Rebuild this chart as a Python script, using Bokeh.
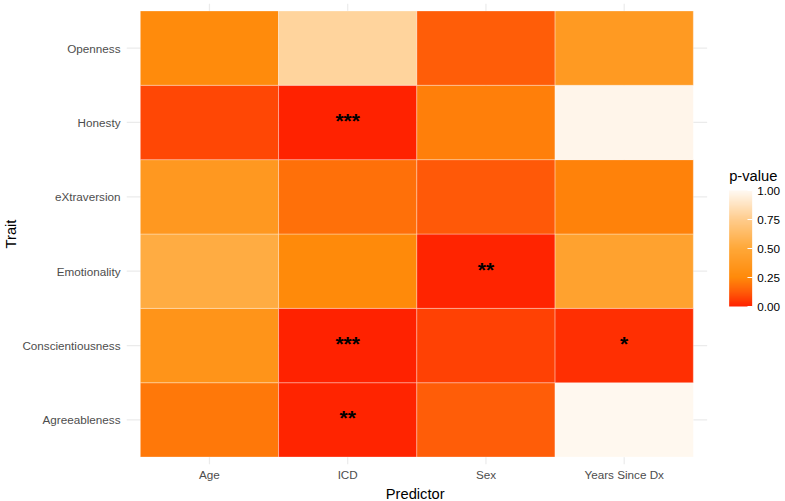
import numpy as np
from bokeh.plotting import figure
from bokeh.models import (ColumnDataSource, LinearColorMapper, ColorBar, FixedTicker,
                          PrintfTickFormatter, Range1d, Label, Title)
from bokeh.core.properties import value
from bokeh.embed import file_html
from bokeh.resources import INLINE

# Predictors (x) and personality traits (y, bottom to top)
predictors = ["Age", "ICD", "Sex", "Years Since Dx"]
traits = ["Agreeableness", "Conscientiousness", "Emotionality",
          "eXtraversion", "Honesty", "Openness"]

# p-values per predictor, ordered like `traits`
p_age = [0.20, 0.33, 0.53, 0.37, 0.08, 0.26]
p_icd = [0.006, 0.0006, 0.25, 0.18, 0.0008, 0.79]
p_sex = [0.13, 0.07, 0.004, 0.12, 0.22, 0.13]
p_ysd = [0.99, 0.03, 0.45, 0.23, 0.98, 0.38]

# colour scale: red (p = 0) through orange to off-white (p = 1)
scale_stops = [0.0, 0.12, 0.25, 0.5, 0.75, 1.0]
scale_colors = ["#FF2200", "#FF5A08", "#FF8A0A", "#FFA838", "#FFCC8C", "#FFF9F2"]
legend_ticks = [0, 0.25, 0.5, 0.75, 1.0]

FONT = "Liberation Sans"

# layout (pixels)
W, H = 785, 501
LEFT, TOP, BOTTOM = 126, 3, 37
COL_PX = 138.25            # width of one predictor column
PANEL_PX = COL_PX * (len(predictors) + 0.2)
LEGEND_PX = W - LEFT - PANEL_PX   # room right of the panel
XTITLE_PX = 62                    # approx. width of the x-axis title text


def build_palette(stops, colors, n=256):
    rgb = np.array([[int(c[i:i + 2], 16) for i in (1, 3, 5)] for c in colors], float)
    t = np.linspace(0, 1, n)
    chans = [np.interp(t, stops, rgb[:, k]) for k in range(3)]
    return ["#%02X%02X%02X" % (int(round(r)), int(round(g)), int(round(b)))
            for r, g, b in zip(*chans)]


def stars(p):
    if p < 0.001:
        return "***"
    if p < 0.01:
        return "**"
    if p < 0.05:
        return "*"
    return ""


columns = [p_age, p_icd, p_sex, p_ysd]
xs, ys, pv, lab = [], [], [], []
for i, col in enumerate(columns):
    for j, p in enumerate(col):
        xs.append(i + 1)
        ys.append(j + 1)
        pv.append(p)
        lab.append(stars(p))
src = ColumnDataSource(dict(x=xs, y=ys, p=pv, lab=lab))

mapper = LinearColorMapper(palette=build_palette(scale_stops, scale_colors), low=0, high=1)

x_lo, x_hi = 0.4, len(predictors) + 0.6
y_lo, y_hi = 0.4, len(traits) + 0.6

# the frame also spans the legend area on the right, so the x range runs past the panel
p = figure(width=W, height=H,
           x_range=Range1d(x_lo, x_hi + LEGEND_PX / COL_PX),
           y_range=Range1d(y_lo, y_hi),
           output_backend="svg", toolbar_location=None,
           min_border_left=LEFT, min_border_right=0, min_border_top=TOP,
           min_border_bottom=BOTTOM)
p.outline_line_color = None
p.background_fill_color = "white"
p.border_fill_color = "white"
p.xgrid.visible = False
p.ygrid.visible = False

# panel grid lines, limited to the panel
grid_x = list(range(1, len(predictors) + 1))
grid_y = list(range(1, len(traits) + 1))
p.segment(x0=grid_x, x1=grid_x, y0=[y_lo] * len(grid_x), y1=[y_hi] * len(grid_x),
          line_color="#EBEBEB", line_width=1.2)
p.segment(x0=[x_lo] * len(grid_y), x1=[x_hi] * len(grid_y), y0=grid_y, y1=grid_y,
          line_color="#EBEBEB", line_width=1.2)

p.rect(x="x", y="y", width=1, height=1, source=src,
       fill_color={"field": "p", "transform": mapper},
       line_color="white", line_alpha=0.55, line_width=0.6)

p.text(x="x", y="y", text="lab", source=src, text_font=value(FONT),
       text_font_size="21px", text_font_style="bold", text_color="black",
       text_align="center", text_baseline="middle", y_offset=-2)

# axes
p.xaxis.ticker = FixedTicker(ticks=grid_x)
p.xaxis.major_label_overrides = {i + 1: n for i, n in enumerate(predictors)}
p.yaxis.ticker = FixedTicker(ticks=grid_y)
p.yaxis.major_label_overrides = {i + 1: n for i, n in enumerate(traits)}
p.yaxis.axis_label = "Trait"
for ax in (p.xaxis, p.yaxis):
    ax.axis_line_color = None
    ax.major_tick_line_color = None
    ax.minor_tick_line_color = None
    ax.major_tick_out = 0
    ax.major_tick_in = 0
    ax.minor_tick_out = 0
    ax.minor_tick_in = 0
    ax.major_label_text_font = FONT
    ax.major_label_text_font_size = "11.7px"
    ax.major_label_text_color = "#4D4D4D"
    ax.axis_label_text_font = FONT
    ax.axis_label_text_font_size = "14.7px"
    ax.axis_label_text_font_style = "normal"
    ax.axis_label_text_color = "black"
p.xaxis.major_label_standoff = 3
p.yaxis.major_label_standoff = 6
p.yaxis.axis_label_standoff = 0

# x-axis title, centred under the panel rather than the whole frame
p.add_layout(Title(text="Predictor", align="left",
                   offset=PANEL_PX / 2 - XTITLE_PX / 2,
                   text_font=FONT, text_font_size="14.7px", text_font_style="normal",
                   text_color="black", standoff=0), "below")

# legend: colour bar plus its title above it
bar_x = PANEL_PX + 22
cbar = ColorBar(color_mapper=mapper,
                ticker=FixedTicker(ticks=legend_ticks),
                formatter=PrintfTickFormatter(format="%.2f"),
                width=23, height=116, location=(bar_x, 158), orientation="vertical",
                major_label_text_font=FONT, major_label_text_font_size="11.7px",
                major_label_text_color="black", label_standoff=5,
                major_tick_line_color="white", major_tick_in=5, major_tick_out=0,
                minor_tick_line_color=None, bar_line_color=None,
                border_line_color=None, background_fill_alpha=0,
                padding=0, margin=0)
p.add_layout(cbar, "center")

p.add_layout(Label(x=bar_x, y=297, x_units="screen", y_units="screen", text="p-value",
                   text_font=FONT, text_font_size="14.7px", text_color="black",
                   text_baseline="top", text_align="left"))

open("out.html", "w").write(file_html(p, INLINE))
